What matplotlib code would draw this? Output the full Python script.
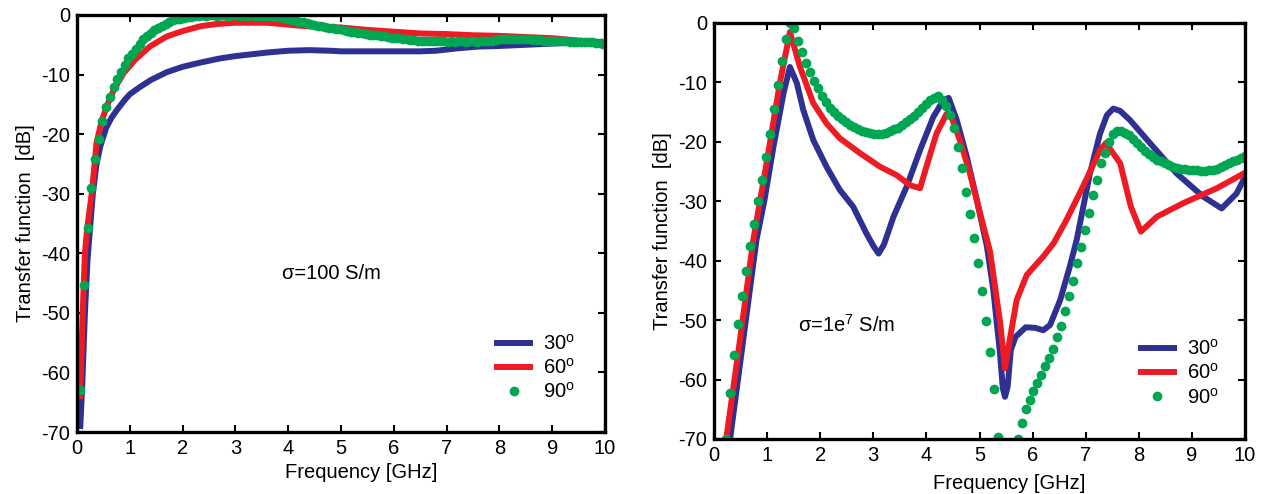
import numpy as np
import matplotlib
matplotlib.use("Agg")
import matplotlib.pyplot as plt

plt.rcParams['font.family'] = ['Liberation Sans', 'DejaVu Sans']
plt.rcParams['axes.unicode_minus'] = False
plt.rcParams['mathtext.fontset'] = 'custom'
plt.rcParams['mathtext.rm'] = 'Liberation Sans'

BLUE = '#2E3192'
RED = '#ED1C24'
GREEN = '#00A651'

labels = ['30$^\\mathregular{o}$', '60$^\\mathregular{o}$', '90$^\\mathregular{o}$']
x_ticks = [0, 1, 2, 3, 4, 5, 6, 7, 8, 9, 10]
y_ticks = [0, -10, -20, -30, -40, -50, -60, -70]

# ---------------- Left panel: sigma = 100 S/m ----------------
left_blue_f = [0.06, 0.10, 0.15, 0.20, 0.25, 0.30, 0.37, 0.44, 0.55, 0.65, 0.76, 0.90, 1.00,
               1.19, 1.40, 1.70, 2.00, 2.33, 2.70, 3.00, 3.30, 3.60, 4.00, 4.40, 4.80, 5.00,
               5.50, 6.00, 6.50, 6.80, 7.20, 7.60, 8.00, 8.50, 9.00, 9.50, 10.0]
left_blue_db = [-69.5, -62, -50, -41, -35.5, -30, -25, -22.1, -19, -17.3, -15.9, -14.3, -13.3,
                -12.1, -10.9, -9.6, -8.7, -8.0, -7.3, -6.9, -6.6, -6.3, -6.0, -5.9, -6.0, -6.1,
                -6.1, -6.1, -6.1, -6.0, -5.6, -5.3, -5.2, -5.0, -4.8, -4.6, -4.5]

left_red_f = [0.06, 0.08, 0.12, 0.15, 0.19, 0.28, 0.37, 0.46, 0.56, 0.70, 0.88, 1.10, 1.38,
              1.70, 2.00, 2.33, 2.65, 3.00, 3.60, 4.22, 4.60, 5.00, 5.50, 6.00, 6.50, 7.00,
              7.50, 8.00, 8.50, 9.00, 9.50, 10.0]
left_red_db = [-64.5, -58, -47, -40, -36, -29.9, -21.5, -18, -15.4, -12.5, -9.8, -7.5, -5.3,
               -3.6, -2.7, -1.9, -1.5, -1.3, -1.3, -1.8, -2.0, -2.1, -2.5, -2.8, -3.1, -3.2,
               -3.4, -3.5, -3.7, -3.9, -4.3, -4.6]

left_green_start, left_green_end = 0.06, 9.97
left_green_db = [
    -63.0, -45.3, -35.7, -29.1, -24.2, -20.8, -17.8, -15.4, -13.7, -12.1, -10.7, -9.5, -8.4,
    -7.3, -6.5, -5.7, -4.9, -4.1, -3.6, -3.1, -2.6, -2.1, -1.8, -1.5, -1.2, -0.9, -0.7,
    -0.6, -0.5, -0.4, -0.3, -0.2, -0.1,
    0.0, -0.1, 0.0, 0.0, -0.1, 0.0, 0.0, -0.1, 0.0, 0.0, -0.1, 0.0, -0.1, 0.0, -0.1, -0.1,
    -0.1, -0.2, -0.2, -0.2,
    -0.3, -0.4, -0.5, -0.6, -0.8, -0.9, -1.1, -1.2, -1.4, -1.5, -1.7, -1.8, -1.9, -2.0,
    -2.1, -2.2, -2.3, -2.4, -2.6, -2.7, -2.8, -2.9, -3.0, -3.1, -3.2, -3.3, -3.3, -3.4,
    -3.5, -3.6, -3.7, -3.8, -3.9, -3.9, -4.0, -4.1, -4.2, -4.2, -4.3, -4.3, -4.3, -4.4,
    -4.4, -4.4, -4.4,
    -4.4, -4.5, -4.4, -4.5, -4.4, -4.4, -4.5, -4.4, -4.4, -4.5, -4.4,
    -4.4, -4.4, -4.3, -4.2, -4.1,
    -4.1, -4.1, -4.1, -4.0, -4.1, -4.1, -4.1, -4.1, -4.2, -4.2,
    -4.2, -4.3, -4.3, -4.3, -4.4, -4.4, -4.4, -4.4, -4.5, -4.5,
    -4.5, -4.5, -4.6, -4.6, -4.6, -4.7, -4.7, -4.8]

# ---------------- Right panel: sigma = 1e7 S/m ----------------
right_blue_f = [0.30, 0.80, 0.95, 1.12, 1.31, 1.43, 1.56, 1.68, 1.87, 2.12, 2.37, 2.62, 2.87,
                3.00, 3.10, 3.20, 3.38, 3.63, 3.88, 4.13, 4.32, 4.42, 4.57, 4.76, 4.95, 5.14,
                5.26, 5.38, 5.44, 5.48, 5.53, 5.59, 5.68, 5.87, 6.05, 6.20, 6.33, 6.52, 6.70,
                6.83, 7.08, 7.27, 7.40, 7.52, 7.65, 7.83, 8.21, 8.71, 9.21, 9.56, 9.84, 10.0]
right_blue_db = [-70.2, -36.5, -29.8, -20.8, -11.8, -7.4, -10.1, -14.6, -19.7, -24.2, -28.1,
                 -30.9, -35.4, -37.5, -38.8, -37.3, -32.6, -27.5, -21.4, -15.8, -13.0, -12.6,
                 -16.3, -22.5, -29.8, -37.6, -44.9, -55.0, -61.5, -62.9, -61.2, -55.0, -52.8,
                 -51.2, -51.3, -51.7, -50.8, -46.6, -41.0, -36.5, -25.3, -18.6, -15.5, -14.4,
                 -14.8, -16.3, -20.2, -25.3, -29.2, -31.2, -28.7, -25.9]

right_red_f = [0.23, 0.49, 0.74, 0.99, 1.24, 1.43, 1.62, 1.87, 2.12, 2.37, 2.75, 3.13, 3.44,
               3.69, 3.88, 4.00, 4.19, 4.38, 4.45, 4.63, 4.82, 5.01, 5.20, 5.39, 5.48, 5.57,
               5.70, 5.89, 6.20, 6.40, 6.64, 6.95, 7.27, 7.38, 7.65, 7.85, 8.04, 8.34, 8.84,
               9.47, 10.0]
right_red_db = [-70.0, -53.3, -36.5, -23.6, -10.1, -1.5, -7.4, -13.5, -16.9, -19.4, -21.9,
                -24.2, -25.6, -27.3, -27.8, -24.2, -18.6, -15.3, -15.3, -19.7, -25.3, -32.0,
                -38.5, -50.5, -58.1, -53.3, -46.6, -42.4, -39.3, -37.0, -33.1, -27.5, -21.4,
                -20.2, -23.6, -30.9, -35.1, -32.6, -30.3, -27.8, -25.2]

right_green_start, right_green_end = 0.23, 10.0
right_green_db = [
    -70.0, -62.2, -55.9, -50.6, -46.0, -41.8, -37.6, -33.8, -30.0, -26.4, -22.5, -18.7,
    -14.5, -10.5, -6.4, -2.7, 0.0, -0.9, -3.0, -4.9, -6.8, -8.3, -9.7, -11.0, -12.2, -13.3,
    -14.3, -15.0, -15.6, -16.2, -16.7, -17.1, -17.5, -17.8, -18.1, -18.3, -18.5, -18.7,
    -18.7, -18.6, -18.5, -18.2, -17.9, -17.6, -17.2, -16.7, -16.2, -15.6, -14.9, -14.3,
    -13.6, -13.0, -12.6, -12.3,
    -13.0, -14.0, -15.5, -17.7, -20.8, -24.4, -28.4, -32.1, -36.2, -40.4, -45.1, -50.1,
    -55.3, -61.6, -69.7,
    -78.0, -85.0, -85.0, -78.0,
    -70.0, -67.3, -65.0, -63.4, -61.9, -60.6, -59.2, -57.8, -56.4, -54.9, -52.9, -51.0,
    -48.5, -46.0, -43.4, -40.4, -37.7, -34.8, -31.9, -28.9, -26.4, -23.6, -21.8, -20.1,
    -18.6, -18.1,
    -18.2, -18.5, -18.9, -19.5, -20.2, -20.8, -21.5, -22.1, -22.6, -23.0, -23.3, -23.6,
    -23.9, -24.2, -24.4, -24.5, -24.6, -24.7, -24.8, -24.8, -24.9, -24.9, -24.8, -24.7,
    -24.5, -24.2, -23.9, -23.6, -23.3, -23.0, -22.7, -22.4]

FS = 14.5

fig = plt.figure(figsize=(12.7, 4.94), dpi=100)
axL = fig.add_axes([77 / 1270, 62 / 494, 528 / 1270, 417 / 494])
axR = fig.add_axes([714 / 1270, 55 / 494, 531 / 1270, 416 / 494])


def style(ax):
    ax.set_xlim(0, 10)
    ax.set_ylim(-70, 0)
    ax.set_xticks(x_ticks)
    ax.set_yticks(y_ticks)
    ax.set_xticklabels([str(t) for t in x_ticks])
    ax.set_yticklabels([str(t) for t in y_ticks])
    ax.tick_params(direction='in', top=True, right=True, length=5, width=1.5,
                   labelsize=FS, pad=5)
    for s in ax.spines.values():
        s.set_linewidth(2.4)
    ax.set_xlabel('Frequency [GHz]', fontsize=FS)
    ax.set_ylabel('Transfer function  [dB]', fontsize=FS, labelpad=4)


def draw(ax, bf, bd, rf, rd, g0, g1, gd):
    ax.plot(bf, bd, color=BLUE, lw=4.3, label=labels[0], solid_capstyle='butt')
    ax.plot(rf, rd, color=RED, lw=4.3, label=labels[1], solid_capstyle='butt')
    gf = np.linspace(g0, g1, len(gd))
    ax.plot(gf, gd, linestyle='none', marker='o', ms=6, color=GREEN, mec=GREEN,
            label=labels[2])


draw(axL, left_blue_f, left_blue_db, left_red_f, left_red_db,
     left_green_start, left_green_end, left_green_db)
draw(axR, right_blue_f, right_blue_db, right_red_f, right_red_db,
     right_green_start, right_green_end, right_green_db)

for ax in (axL, axR):
    style(ax)

axL.xaxis.set_label_coords(0.538, -0.074)
axR.xaxis.set_label_coords(0.556, -0.084)

axL.text(0.388, 0.381, 'σ=100 S/m', transform=axL.transAxes, fontsize=FS, va='center',
         ha='left')
axR.text(0.158, 0.274, 'σ=1e$^\\mathregular{7}$ S/m', transform=axR.transAxes, fontsize=FS,
         va='center', ha='left')

legkw = dict(frameon=False, fontsize=FS, handlelength=1.95, handletextpad=0.5,
             labelspacing=0.2, borderpad=0, borderaxespad=0, numpoints=1, loc='upper left')
axL.legend(bbox_to_anchor=(0.79, 0.235), **legkw)
axR.legend(bbox_to_anchor=(0.798, 0.24), **legkw)

fig.savefig('out.png', dpi=100)
